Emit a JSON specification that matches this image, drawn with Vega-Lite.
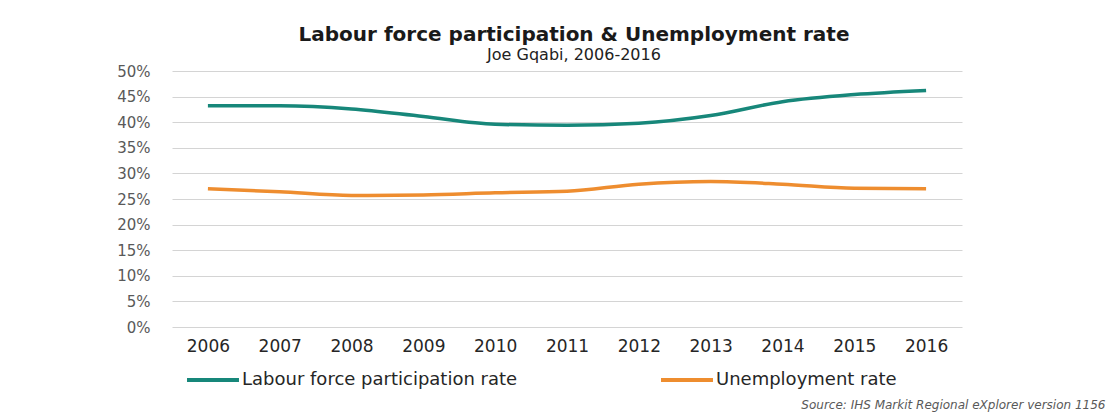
{
  "$schema": "https://vega.github.io/schema/vega-lite/v6.json",
  "autosize": {"type": "none"},
  "padding": {"left": 172, "top": 71, "right": 149, "bottom": 85},
  "width": 790,
  "height": 256,
  "background": "white",
  "title": {
    "text": "Labour force participation & Unemployment rate",
    "subtitle": "Joe Gqabi, 2006-2016",
    "anchor": "middle",
    "frame": "group",
    "dx": 7,
    "offset": 1,
    "font": "DejaVu Sans",
    "fontSize": 20,
    "fontWeight": "bold",
    "color": "#1a1a1a",
    "subtitleFont": "DejaVu Sans",
    "subtitleFontSize": 16,
    "subtitleColor": "#222222",
    "subtitlePadding": 2
  },
  "data": {
    "values": [
      {"year": "2006", "series": "Labour force participation rate", "value": 0.432},
      {"year": "2007", "series": "Labour force participation rate", "value": 0.432},
      {"year": "2008", "series": "Labour force participation rate", "value": 0.426},
      {"year": "2009", "series": "Labour force participation rate", "value": 0.411},
      {"year": "2010", "series": "Labour force participation rate", "value": 0.396},
      {"year": "2011", "series": "Labour force participation rate", "value": 0.394},
      {"year": "2012", "series": "Labour force participation rate", "value": 0.398},
      {"year": "2013", "series": "Labour force participation rate", "value": 0.413},
      {"year": "2014", "series": "Labour force participation rate", "value": 0.440},
      {"year": "2015", "series": "Labour force participation rate", "value": 0.454},
      {"year": "2016", "series": "Labour force participation rate", "value": 0.462},
      {"year": "2006", "series": "Unemployment rate", "value": 0.270},
      {"year": "2007", "series": "Unemployment rate", "value": 0.264},
      {"year": "2008", "series": "Unemployment rate", "value": 0.257},
      {"year": "2009", "series": "Unemployment rate", "value": 0.258},
      {"year": "2010", "series": "Unemployment rate", "value": 0.262},
      {"year": "2011", "series": "Unemployment rate", "value": 0.265},
      {"year": "2012", "series": "Unemployment rate", "value": 0.279},
      {"year": "2013", "series": "Unemployment rate", "value": 0.284},
      {"year": "2014", "series": "Unemployment rate", "value": 0.279},
      {"year": "2015", "series": "Unemployment rate", "value": 0.271},
      {"year": "2016", "series": "Unemployment rate", "value": 0.270}
    ]
  },
  "mark": {"type": "line", "interpolate": "monotone", "strokeWidth": 3.5},
  "encoding": {
    "x": {
      "field": "year",
      "type": "ordinal",
      "scale": {"type": "point", "padding": 0.5},
      "axis": {
        "labelAngle": 0,
        "labelFont": "DejaVu Sans",
        "labelFontSize": 17,
        "labelColor": "#262626",
        "labelPadding": 11,
        "ticks": false,
        "domain": false,
        "grid": false,
        "title": "Source: IHS Markit Regional eXplorer version 1156",
        "titleFont": "DejaVu Sans",
        "titleFontSize": 12,
        "titleFontStyle": "italic",
        "titleFontWeight": "normal",
        "titleColor": "#595959",
        "titleAnchor": "end",
        "titleAlign": "right",
        "titleBaseline": "middle",
        "titleX": 933,
        "titleY": 77
      }
    },
    "y": {
      "field": "value",
      "type": "quantitative",
      "scale": {"domain": [0, 0.5], "nice": false},
      "axis": {
        "values": [0, 0.05, 0.1, 0.15, 0.2, 0.25, 0.3, 0.35, 0.4, 0.45, 0.5],
        "format": ".0%",
        "title": null,
        "labelFont": "DejaVu Sans",
        "labelFontSize": 15,
        "labelColor": "#595959",
        "labelPadding": 22,
        "ticks": false,
        "domain": false,
        "gridColor": "#d4d4d4",
        "gridWidth": 1
      }
    },
    "color": {
      "field": "series",
      "type": "nominal",
      "scale": {
        "domain": ["Labour force participation rate", "Unemployment rate"],
        "range": ["#17877a", "#ee8d2f"]
      },
      "legend": {
        "title": null,
        "orient": "none",
        "direction": "horizontal",
        "legendX": 13,
        "legendY": 281,
        "symbolType": "stroke",
        "symbolSize": 2700,
        "symbolStrokeWidth": 4,
        "labelFont": "DejaVu Sans",
        "labelFontSize": 18,
        "labelColor": "#262626",
        "labelOffset": 1,
        "columnPadding": 135,
        "labelLimit": 500
      }
    }
  },
  "config": {"view": {"stroke": null}}
}
